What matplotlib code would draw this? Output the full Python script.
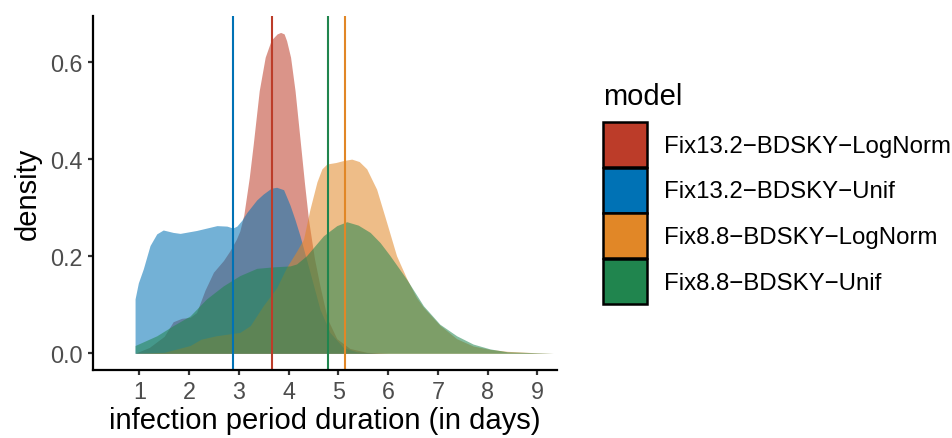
import matplotlib.pyplot as plt
import matplotlib.patches as mpatches
import matplotlib as mpl

mpl.rcParams['font.family'] = ['Liberation Sans', 'DejaVu Sans']

# density curves of the infection period (days) for each model
models = ['Fix13.2\u2212BDSKY\u2212LogNorm', 'Fix13.2\u2212BDSKY\u2212Unif',
          'Fix8.8\u2212BDSKY\u2212LogNorm', 'Fix8.8\u2212BDSKY\u2212Unif']
colors = ['#BC3C29', '#0072B5', '#E18727', '#20854E']

x_fix132_lognorm = [0.914, 1.2, 1.5, 1.68, 1.85, 2.02, 2.15, 2.32, 2.49, 2.69, 2.82, 2.95, 3.02,
                    3.10, 3.21, 3.29, 3.41, 3.53, 3.65, 3.77, 3.84, 3.91, 3.96, 4.04, 4.13, 4.24,
                    4.32, 4.40, 4.52, 4.63, 4.78, 4.97, 5.23, 5.57, 6.0, 9.32]
y_fix132_lognorm = [0.0, 0.012, 0.035, 0.065, 0.072, 0.074, 0.084, 0.13, 0.167, 0.191, 0.211, 0.235, 0.252,
                    0.285, 0.362, 0.431, 0.541, 0.610, 0.645, 0.658, 0.661, 0.658, 0.644, 0.610, 0.541, 0.431,
                    0.350, 0.276, 0.195, 0.139, 0.071, 0.030, 0.010, 0.002, 0.0, 0.0]

x_fix132_unif = [0.914, 0.98, 1.08, 1.215, 1.35, 1.48, 1.68, 1.82, 2.15, 2.56, 2.76, 2.88, 2.96, 3.06,
                 3.16, 3.36, 3.49, 3.65, 3.76, 3.9, 4.03, 4.13, 4.23, 4.43, 4.63, 4.83, 5.1, 5.37, 5.8, 9.32]
y_fix132_unif = [0.112, 0.145, 0.174, 0.222, 0.246, 0.254, 0.249, 0.247, 0.253, 0.263, 0.262, 0.258, 0.262, 0.274,
                 0.29, 0.316, 0.328, 0.340, 0.342, 0.337, 0.305, 0.275, 0.242, 0.167, 0.091, 0.043, 0.012, 0.003, 0.0, 0.0]

x_fix88_lognorm = [0.914, 1.5, 2.02, 2.24, 2.54, 3.02, 3.23, 3.49, 3.76, 3.96, 4.16, 4.30, 4.43,
                   4.57, 4.67, 4.77, 4.95, 5.1, 5.27, 5.42, 5.57, 5.77, 5.97, 6.17, 6.37, 6.57,
                   6.71, 7.04, 7.38, 7.71, 8.05, 8.4, 9.0, 9.32]
y_fix88_lognorm = [0.0, 0.002, 0.016, 0.029, 0.036, 0.043, 0.057, 0.098, 0.135, 0.177, 0.210, 0.235, 0.297,
                   0.353, 0.380, 0.390, 0.393, 0.397, 0.400, 0.395, 0.380, 0.338, 0.270, 0.201, 0.155, 0.115,
                   0.095, 0.058, 0.030, 0.015, 0.008, 0.004, 0.001, 0.0]

x_fix88_unif = [0.914, 1.35, 1.68, 2.02, 2.35, 2.69, 3.02, 3.36, 3.69, 4.03, 4.16, 4.36, 4.70,
                4.97, 5.17, 5.40, 5.64, 5.84, 6.04, 6.37, 6.71, 7.04, 7.38, 7.71, 8.05, 8.4, 9.0, 9.32]
y_fix88_unif = [0.016, 0.036, 0.057, 0.077, 0.112, 0.139, 0.160, 0.175, 0.178, 0.180, 0.184, 0.201, 0.242,
                0.263, 0.271, 0.264, 0.249, 0.228, 0.201, 0.153, 0.098, 0.06, 0.036, 0.019, 0.009, 0.003, 0.001, 0.0]

# posterior means drawn as vertical lines
means = [3.661, 2.877, 5.128, 4.793]

xs = [x_fix132_lognorm, x_fix132_unif, x_fix88_lognorm, x_fix88_unif]
ys = [y_fix132_lognorm, y_fix132_unif, y_fix88_lognorm, y_fix88_unif]

fig = plt.figure(figsize=(9.52, 4.39), dpi=100)
ax = fig.add_axes([0.0974, 0.1556, 0.4877, 0.8055])

for x, y, c in zip(xs, ys, colors):
    ax.fill_between(x, 0, y, color=c, alpha=0.55, linewidth=0)
for m, c in zip(means, colors):
    ax.axvline(m, color=c, linewidth=1.5)

ax.set_xlim(0.063, 9.396)
ax.set_ylim(-0.0338, 0.6947)
ax.set_xticks(range(1, 10))
ax.set_yticks([0.0, 0.2, 0.4, 0.6])
ax.set_yticklabels(['0.0', '0.2', '0.4', '0.6'])

for s in ['top', 'right']:
    ax.spines[s].set_visible(False)
for s in ['left', 'bottom']:
    ax.spines[s].set_linewidth(1.6)
ax.tick_params(width=1.6, length=3.5, color='#333333', labelcolor='#4D4D4D',
               labelsize=16.8, pad=4)

ax.set_xlabel('infection period duration (in days)', fontsize=21, labelpad=2)
ax.set_ylabel('density', fontsize=21, labelpad=6)

# legend: title as its own text, then the coloured keys
fig.text(0.6334, 0.7608, 'model', fontsize=21, va='baseline', ha='left')
handles = [mpatches.Patch(facecolor=c, edgecolor='black', linewidth=1.8) for c in colors]
leg = fig.legend(handles, models, loc='upper left', bbox_to_anchor=(0.6334, 0.7198),
                 frameon=False, fontsize=17.3,
                 handlelength=1.83, handleheight=2.5, handletextpad=0.7,
                 labelspacing=0.03, borderpad=0, borderaxespad=0)

fig.savefig('out.png', dpi=100)
